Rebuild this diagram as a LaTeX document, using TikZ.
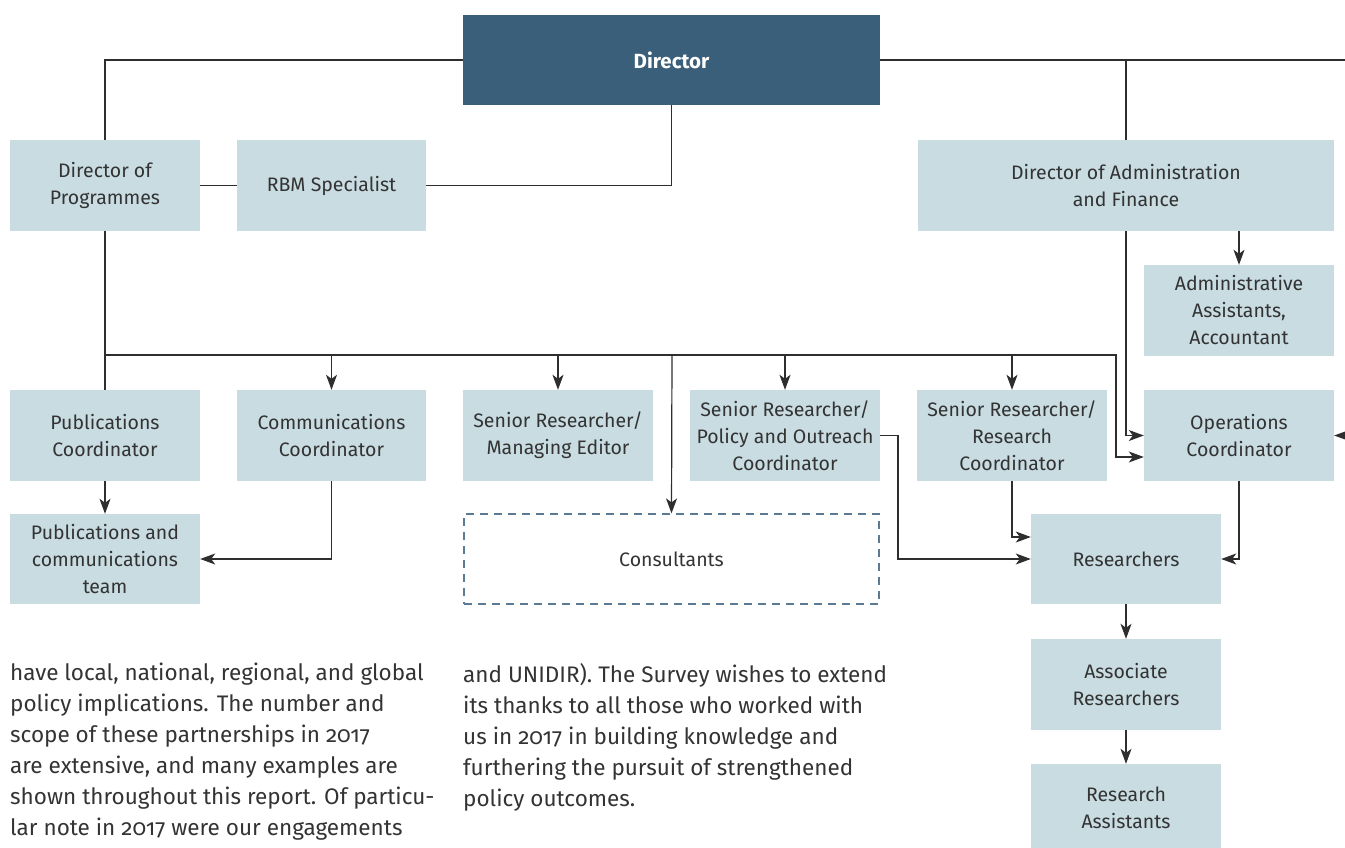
\documentclass[tikz,border=0pt]{standalone}
\usepackage{fontspec}
\setmainfont{Fira Sans}
\newfontfamily\parafont[Numbers=OldStyle]{Fira Sans}
\usetikzlibrary{arrows.meta}
\definecolor{boxfill}{HTML}{C8DCE2}
\definecolor{dirfill}{HTML}{3A5F7A}
\definecolor{linecol}{HTML}{2E2E2E}
\definecolor{txtcol}{HTML}{333333}
\definecolor{dashcol}{HTML}{5A7A95}
\begin{document}
\begin{tikzpicture}[x=1pt,y=-1pt,
  box/.style={fill=boxfill, text=txtcol, minimum width=190pt, minimum height=91pt,
    inner sep=0pt, align=center, font=\fontsize{19.5}{27}\selectfont},
  widebox/.style={box, minimum width=416pt},
  dirbox/.style={box, fill=dirfill, text=white, minimum width=417pt, minimum height=90pt,
    font=\fontsize{20.5}{27}\selectfont\bfseries},
  dashbox/.style={box, fill=none, draw=dashcol, line width=1.2pt,
    dash pattern=on 8pt off 6pt, minimum width=415pt, minimum height=90pt},
  conn/.style={draw=linecol, line width=1.2pt},
  arr/.style={conn, -{Stealth[length=15pt,width=11pt,inset=4pt]}},
  para/.style={anchor=north west, inner sep=0pt, align=left, text=txtcol,
    font=\parafont\fontsize{22.5}{31}\selectfont}]
\useasboundingbox (0,0) rectangle (1345,848);

% nodes
\node[dirbox] (dir) at (671.5,60) {Director};
\node[box] (dop) at (105,185.5) {Director of\\Programmes};
\node[box, minimum width=189pt] (rbm) at (331.5,185.5) {RBM Specialist};
\node[widebox] (daf) at (1126,185.5) {Director of Administration\\and Finance};
\node[box] (admin) at (1239,310.5) {Administrative\\Assistants,\\Accountant};
\node[box] (pubc) at (105,435.5) {Publications\\Coordinator};
\node[box, minimum width=189pt] (comm) at (331.5,435.5) {Communications\\Coordinator};
\node[box] (srme) at (558,435.5) {Senior Researcher/\\Managing Editor};
\node[box] (srpo) at (785,435.5) {Senior Researcher/\\Policy and Outreach\\Coordinator};
\node[box] (srrc) at (1012,435.5) {Senior Researcher/\\Research\\Coordinator};
\node[box] (ops) at (1239,435.5) {Operations\\Coordinator};
\node[box, minimum height=90pt] (pubteam) at (105,559) {Publications and\\communications\\team};
\node[dashbox] (cons) at (671.5,559) {Consultants};
\node[box, minimum height=90pt] (res) at (1126,559) {Researchers};
\node[box] (assoc) at (1126,684.5) {Associate\\Researchers};
\node[box, minimum height=88pt] (ra) at (1126,808) {Research\\Assistants};

% coordinates
\coordinate (redge) at (1345,60);
\coordinate (redge2) at (1345,435.5);
\coordinate (busL) at (105,355);
\coordinate (busR) at (1116,355);
\coordinate (busD) at (1116,457);
\coordinate (consTop) at (672,355);
\coordinate (srpoBend) at (898,435.5);
\coordinate (srrcIn) at (1012,537);

% connectors
\draw[conn] (dir.west) -| (dop.north);
\draw[conn] (dir.east) -- (redge);
\draw[conn] (daf.north |- dir.east) -- (daf.north);
\draw[conn] (dop.east) -- (rbm.west);
\draw[conn] (rbm.east) -| (dir.south);
\draw[conn] (dop.south) -- (pubc.north);
\draw[arr] (busL) -- (busR) -- (busD) -- (busD -| ops.west);
\draw[arr] (comm.north |- busL) -- (comm.north);
\draw[arr] (srme.north |- busL) -- (srme.north);
\draw[arr] (consTop) -- (cons.north);
\draw[arr] (srpo.north |- busL) -- (srpo.north);
\draw[arr] (srrc.north |- busL) -- (srrc.north);
\draw[arr] (admin.north |- daf.south) -- (admin.north);
\draw[arr] (daf.south) |- (ops.west);
\draw[arr] (redge2) -- (ops.east);
\draw[arr] (pubc.south) -- (pubteam.north);
\draw[arr] (comm.south) |- (pubteam.east);
\draw[arr] (srpo.east) -- (srpoBend) |- (res.west);
\draw[arr] (srrc.south) -- (srrcIn) -- (srrcIn -| res.west);
\draw[arr] (ops.south) |- (res.east);
\draw[arr] (res.south) -- (assoc.north);
\draw[arr] (assoc.south) -- (ra.north);

% body text
\node[para] (colA) at (10,663) {have local, national, regional, and global\\
policy implications. The number and\\
scope of these partnerships in 2017\\
are extensive, and many examples are\\
shown throughout this report. Of particu-\\
lar note in 2017 were our engagements};
\node[para] (colB) at (463,663) {and UNIDIR). The Survey wishes to extend\\
its thanks to all those who worked with\\
us in 2017 in building knowledge and\\
furthering the pursuit of strengthened\\
policy outcomes.};
\end{tikzpicture}
\end{document}
